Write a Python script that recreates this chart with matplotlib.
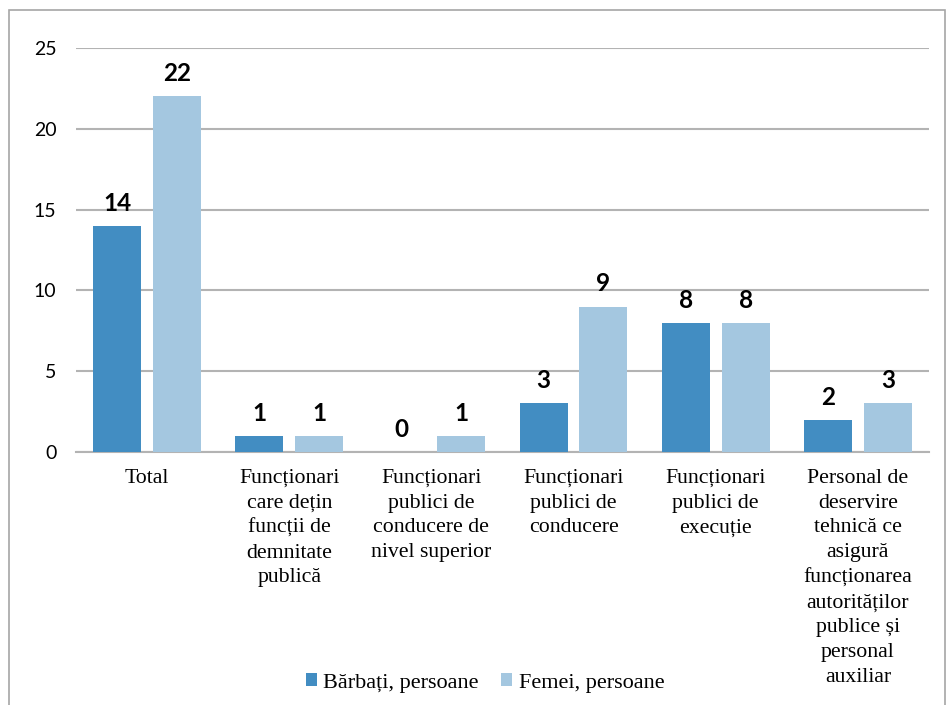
import matplotlib
matplotlib.use("Agg")
import matplotlib.pyplot as plt
import numpy as np
from matplotlib.patches import Rectangle

categories = [
    "Total",
    "Funcționari\ncare dețin\nfuncții de\ndemnitate\npublică",
    "Funcționari\npublici de\nconducere de\nnivel superior",
    "Funcționari\npublici de\nconducere",
    "Funcționari\npublici de\nexecuție",
    "Personal de\ndeservire\ntehnică ce\nasigură\nfuncționarea\nautorităților\npublice și\npersonal\nauxiliar",
]
barbati = [14, 1, 0, 3, 8, 2]
femei = [22, 1, 1, 9, 8, 3]
series_names = ["Bărbați, persoane", "Femei, persoane"]
y_ticks = [0, 5, 10, 15, 20, 25]

c_dark = "#428DC2"
c_light = "#A4C7E0"
grid_c = "#B3B3B3"

fig = plt.figure(figsize=(9.46, 7.05), dpi=100)
ax = fig.add_axes([0.0803, 0.3589, 0.9017, 0.5730])

# outer chart border
fig.patches.append(Rectangle((9 / 946, -0.05), 936 / 946, 1.05 - 10 / 705,
                             transform=fig.transFigure, fill=False,
                             edgecolor="#A6A6A6", linewidth=1.2))

x = np.arange(len(categories))
w = 0.337
off = 0.21
b1 = ax.bar(x - off, barbati, w, color=c_dark, label=series_names[0], zorder=3)
b2 = ax.bar(x + off, femei, w, color=c_light, label=series_names[1], zorder=3)

for bars, vals in ((b1, barbati), (b2, femei)):
    for rect, v in zip(bars, vals):
        ax.annotate(str(v), (rect.get_x() + rect.get_width() / 2, v),
                    xytext=(0, 8), textcoords="offset points",
                    ha="center", va="bottom", fontsize=17.5, fontweight="bold",
                    family="Lato")

ax.set_xlim(-0.5, len(categories) - 0.5)
ax.set_ylim(0, 25)
ax.set_yticks(y_ticks)
ax.set_yticklabels([str(t) for t in y_ticks], family="Lato", fontsize=14)
ax.grid(axis="y", color=grid_c, linewidth=1.5, zorder=0)
ax.set_axisbelow(True)
for s in ("left", "right", "top"):
    ax.spines[s].set_visible(False)
ax.spines["bottom"].set_color(grid_c)
ax.spines["bottom"].set_linewidth(1.5)
ax.tick_params(axis="y", length=0, pad=14)
ax.tick_params(axis="x", length=0, pad=12)
ax.set_xticks(x)
ax.set_xticklabels(categories, family="Liberation Serif", fontsize=15.7,
                   linespacing=1.42, va="top")

ax.legend(loc="center", bbox_to_anchor=(485 / 946, 1 - 683 / 705),
          bbox_transform=fig.transFigure, ncol=2, frameon=False,
          prop={"family": "Liberation Serif", "size": 16},
          handlelength=0.5, handleheight=0.5, handletextpad=0.3,
          columnspacing=1.0)

fig.savefig("out.png", dpi=100)
